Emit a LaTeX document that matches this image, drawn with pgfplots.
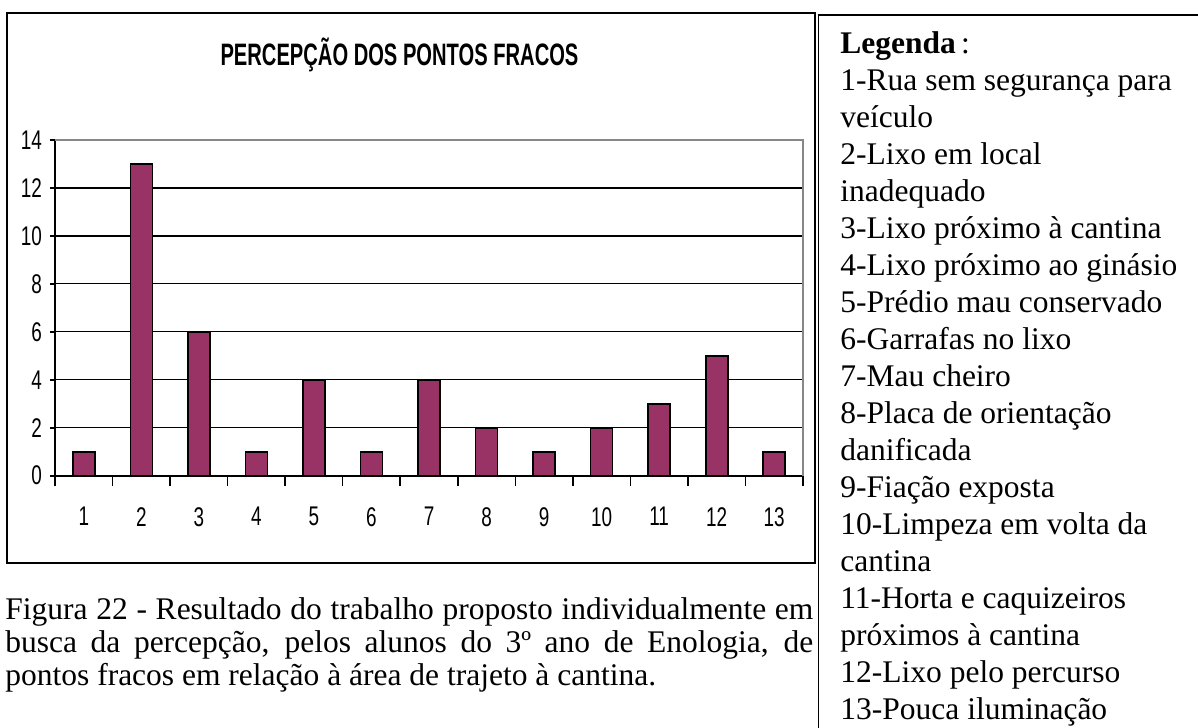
\documentclass[border=0pt]{standalone}
\usepackage{fontspec}
\setmainfont{Liberation Serif}
\newfontfamily\arialn[FakeStretch=0.70]{Liberation Sans}
\newfontfamily\arialt[FakeStretch=0.65]{Liberation Sans}
\usepackage{pgfplots}
\pgfplotsset{compat=1.18}
\definecolor{plum}{RGB}{153,51,102}
\definecolor{framegray}{RGB}{135,135,135}

\begin{document}
\begin{tikzpicture}
\useasboundingbox (0bp,0bp) rectangle (599bp,-364bp);
% chart frame and legend frame
\draw[line width=1.1bp] (3.5bp,-6.5bp) rectangle (407.5bp,-281.5bp);
\draw[line width=0.7bp] (409.2bp,-364bp) -- (409.2bp,-7.5bp) -- (599bp,-7.5bp);
\node[font=\arialt\bfseries\fontsize{15.5bp}{17bp}\selectfont] at (199.75bp,-27.5bp) {PERCEPÇÃO DOS PONTOS FRACOS};

\begin{axis}[
    at={(27.5bp,-237.85bp)}, anchor=south west,
    scale only axis,
    width=374bp, height=167.85bp,
    xmin=0.5, xmax=13.5,
    ymin=0, ymax=14,
    ybar, bar width=11bp,
    axis x line*=bottom, axis y line*=left,
    axis line style={line width=0.8bp, -},
    xtick={1,...,13},
    minor xtick={0.5,1.5,...,13.5},
    ytick={0,2,...,14},
    tick align=outside,
    major x tick style={draw=none},
    minor tick length=5bp,
    major tick length=2.5bp,
    every tick/.style={black, line width=0.8bp},
    ymajorgrids,
    grid style={black, line width=0.6bp},
    /pgf/number format/assume math mode=true,
    ticklabel style={font=\arialn\fontsize{13.5bp}{15bp}\selectfont},
    xticklabel style={anchor=center, yshift=-18bp},
    yticklabel style={anchor=east, xshift=-0.5bp},
    clip=false,
]
\addplot[fill=plum, draw=black, line width=0.8bp] coordinates {
    (1,1) (2,13) (3,6) (4,1) (5,4) (6,1) (7,4)
    (8,2) (9,1) (10,2) (11,3) (12,5) (13,1)
};
\draw[framegray, line width=0.8bp] (rel axis cs:0,1) -- (rel axis cs:1,1) -- (rel axis cs:1,0);
\end{axis}

% legend text
\foreach \t [count=\i from 0] in {
    {\textbf{Legenda}\,:},
    {1-Rua sem segurança para},
    {veículo},
    {2-Lixo em local},
    {inadequado},
    {3-Lixo próximo à cantina},
    {4-Lixo próximo ao ginásio},
    {5-Prédio mau conservado},
    {6-Garrafas no lixo},
    {7-Mau cheiro},
    {8-Placa de orientação},
    {danificada},
    {9-Fiação exposta},
    {10-Limpeza em volta da},
    {cantina},
    {11-Horta e caquizeiros},
    {próximos à cantina},
    {12-Lixo pelo percurso},
    {13-Pouca iluminação}}
  \node[anchor=base west, inner sep=0pt, font=\fontsize{15.75bp}{18bp}\selectfont]
    at (420bp,{-26.5bp-\i*18.5bp}) {\t};

% caption
\begin{scope}[every node/.style={anchor=base west, inner sep=0pt, font=\fontsize{15.75bp}{18bp}\selectfont}]
\node at (2.5bp,-309.5bp) {\makebox[404bp][s]{Figura 22 - Resultado do trabalho proposto individualmente em}};
\node at (2.5bp,-326bp) {\makebox[404bp][s]{busca da percepção, pelos alunos do 3º ano de Enologia, de}};
\node at (2.5bp,-342.5bp) {pontos fracos em relação à área de trajeto à cantina.};
\end{scope}
\end{tikzpicture}
\end{document}
